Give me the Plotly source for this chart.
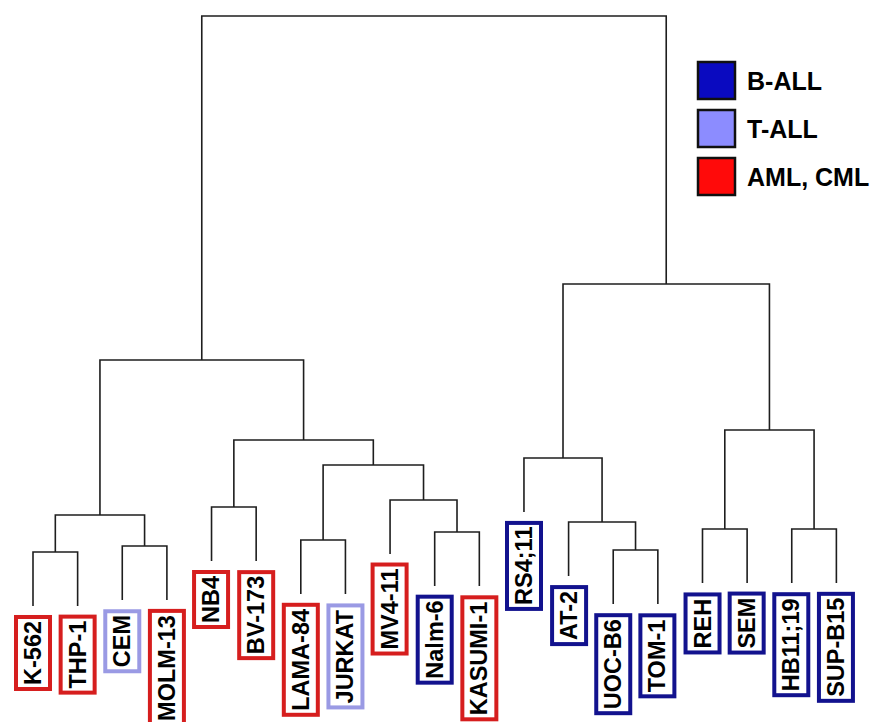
import plotly.graph_objects as go

# Cell lines in dendrogram leaf order, with their disease group
leaf_labels = ["K-562", "THP-1", "CEM", "MOLM-13", "NB4", "BV-173", "LAMA-84",
               "JURKAT", "MV4-11", "Nalm-6", "KASUMI-1", "RS4;11", "AT-2",
               "UOC-B6", "TOM-1", "REH", "SEM", "HB11;19", "SUP-B15"]
leaf_groups = ["AML, CML", "AML, CML", "T-ALL", "AML, CML", "AML, CML", "AML, CML",
               "AML, CML", "T-ALL", "AML, CML", "B-ALL", "AML, CML", "B-ALL",
               "B-ALL", "B-ALL", "B-ALL", "B-ALL", "B-ALL", "B-ALL", "B-ALL"]

# hclust-style merge table: negative = leaf (1-based), positive = earlier merge
merge_left = [-1, -14, -3, -7, -10, -16, -18, -13, 1, -5, -9, 4, -12, 10, 6, 9, 13, 16]
merge_right = [-2, -15, -4, -8, -11, -17, -19, 2, 3, -6, 5, 11, 8, 12, 7, 14, 15, 17]
merge_height = [9.76, 10.10, 10.77, 11.78, 13.13, 13.64, 13.64, 14.81, 15.99,
                17.34, 18.52, 24.41, 25.59, 28.62, 30.30, 42.09, 54.88, 100.0]
hang = 9.09

legend_groups = ["B-ALL", "T-ALL", "AML, CML"]
legend_fill = ["#0a0ac0", "#8c8cff", "#ff0a0a"]
border_colors = {"B-ALL": "#12128e", "T-ALL": "#9a9ae4", "AML, CML": "#d61e1e"}

# Positions of every node: leaves at 1..n, merges at the mean of their children
node_x = {}
for i in range(len(leaf_labels)):
    node_x[-(i + 1)] = i + 1.0
node_h = {}
xs, ys = [], []
leaf_end = {}
for k, (a, b, h) in enumerate(zip(merge_left, merge_right, merge_height), start=1):
    xa, xb = node_x[a], node_x[b]
    ha = node_h.get(a, h - hang)
    hb = node_h.get(b, h - hang)
    if a < 0:
        leaf_end[a] = ha
    if b < 0:
        leaf_end[b] = hb
    xs += [xa, xa, xb, xb, None]
    ys += [ha, h, h, hb, None]
    node_x[k] = (xa + xb) / 2
    node_h[k] = h

fig = go.Figure()
fig.add_trace(go.Scatter(x=xs, y=ys, mode="lines",
                         line=dict(color="#1e1e1e", width=1.6),
                         hoverinfo="skip", showlegend=False))

label_font = dict(family="Liberation Sans, Arial, sans-serif", size=23.5,
                  color="#000000", weight="bold")
for i, (lab, grp) in enumerate(zip(leaf_labels, leaf_groups)):
    fig.add_annotation(x=i + 1, y=leaf_end[-(i + 1)], xref="x", yref="y",
                       text=lab, textangle=-90, showarrow=False,
                       xanchor="center", yanchor="top", yshift=-9,
                       font=label_font, bgcolor="white",
                       bordercolor=border_colors[grp], borderwidth=4, borderpad=2)

# Legend: coloured squares with bold group names
W, H = 877, 722
box_left, box_size, box_top0, box_step = 698, 37, 62, 48
for j, (grp, col) in enumerate(zip(legend_groups, legend_fill)):
    top = box_top0 + j * box_step
    fig.add_shape(type="rect", xref="paper", yref="paper",
                  x0=box_left / W, x1=(box_left + box_size) / W,
                  y0=1 - (top + box_size) / H, y1=1 - top / H,
                  fillcolor=col, line=dict(color="#101010", width=2.5))
    fig.add_annotation(x=(box_left + box_size + 10) / W, y=1 - (top + box_size / 2) / H,
                       xref="paper", yref="paper", text=grp, showarrow=False,
                       xanchor="left", yanchor="middle",
                       font=dict(family="Liberation Sans, Arial, sans-serif", size=25,
                                 color="#000000", weight="bold"))

fig.update_xaxes(visible=False, range=[0.2606, 19.91])
fig.update_yaxes(visible=False, range=[-18.86, 102.69])
fig.update_layout(width=W, height=H, margin=dict(l=0, r=0, t=0, b=0),
                  plot_bgcolor="white", paper_bgcolor="white", showlegend=False)

fig.write_html("out.html")
